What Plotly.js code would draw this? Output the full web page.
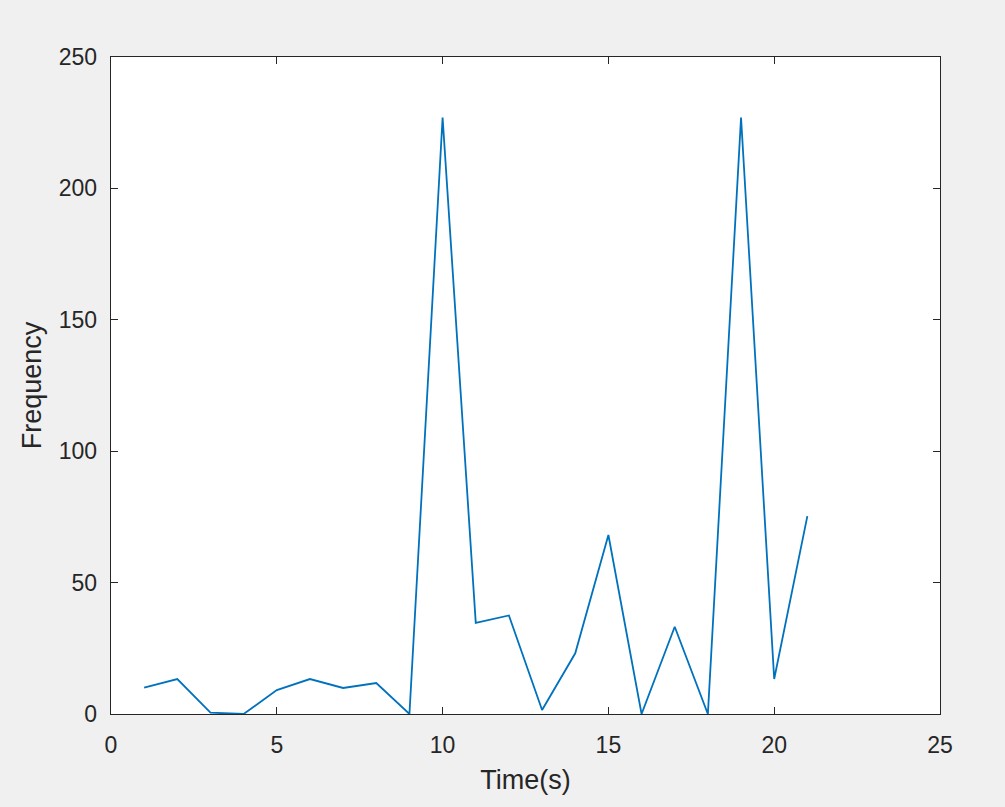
<!DOCTYPE html>
<html>
<head>
<meta charset="utf-8">
<script src="https://cdn.plot.ly/plotly-3.0.1.min.js"></script>
<style>html,body{margin:0;padding:0;background:#f0f0f0;}</style>
</head>
<body>
<div id="chart" style="width:1005px;height:807px;"></div>
<script>
const timeSeconds = [1,2,3,4,5,6,7,8,9,10,11,12,13,14,15,16,17,18,19,20,21];
const frequency = [10,13.3,0.5,0,9.1,13.3,9.9,11.8,0,227,34.7,37.5,1.5,23.1,68.1,0,33.2,0,227,13.3,75.3];
const xTicks = [0,5,10,15,20,25];
const yTicks = [0,50,100,150,200,250];

const FONT = 'Liberation Sans, Arial, sans-serif';
const axisCommon = {
  showline: true, mirror: 'ticks', linecolor: '#262626', linewidth: 1.3,
  ticks: 'inside', ticklen: 7, tickcolor: '#262626', tickwidth: 1.3,
  showgrid: false, zeroline: false,
  tickfont: {family: FONT, size: 23, color: '#262626'}
};

Plotly.newPlot('chart', [{
  x: timeSeconds, y: frequency, type: 'scatter', mode: 'lines',
  line: {color: '#0072BD', width: 1.8}
}], {
  width: 1005, height: 807,
  paper_bgcolor: '#f0f0f0', plot_bgcolor: '#ffffff',
  margin: {l: 111, r: 65, t: 57, b: 93},
  showlegend: false,
  xaxis: Object.assign({}, axisCommon, {
    range: [0, 25], tickvals: xTicks, ticktext: xTicks.map(String),
    ticklabelstandoff: 10,
    title: {text: 'Time(s)', font: {family: FONT, size: 27, color: '#262626'}, standoff: 13}
  }),
  yaxis: Object.assign({}, axisCommon, {
    range: [0, 250], tickvals: yTicks, ticktext: yTicks.map(String),
    ticklabelstandoff: 8,
    title: {text: 'Frequency', font: {family: FONT, size: 27, color: '#262626'}, standoff: 9}
  })
}, {displayModeBar: false, staticPlot: true});
</script>
</body>
</html>
